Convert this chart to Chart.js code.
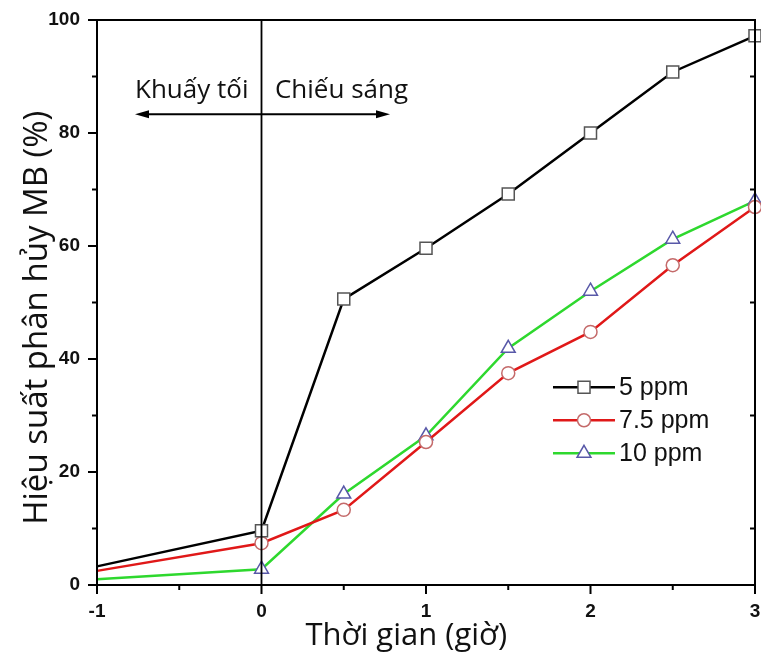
<!DOCTYPE html>
<html><head><meta charset="utf-8">
<script src="https://cdn.jsdelivr.net/npm/chart.js@4/dist/chart.umd.min.js"></script>
<style>html,body{margin:0;padding:0;background:#fff}#w{width:761px;height:660px}</style>
</head><body><div id="w"><canvas id="c" width="761" height="660"></canvas></div>
<script>
const times = [-1, 0, 0.5, 1, 1.5, 2, 2.5, 3];
const ppm5 = [3.3, 9.6, 50.6, 59.6, 69.2, 80.0, 90.8, 97.2];
const ppm75 = [2.5, 7.4, 13.3, 25.3, 37.5, 44.8, 56.6, 66.9];
const ppm10 = [1.0, 2.8, 16.1, 26.4, 41.9, 52.0, 61.2, 68.0];
const seriesNames = ["5 ppm", "7.5 ppm", "10 ppm"];
const xTickValues = [-1, 0, 1, 2, 3];
const yTickValues = [0, 20, 40, 60, 80, 100];
const labelDark = "Khuấy tối";
const labelLight = "Chiếu sáng";
const xTitle = "Thời gian (giờ)";
const yTitle = "Hiệu suất phân hủy MB (%)";

const pts = arr => times.map((t, i) => ({x: t, y: arr[i]}));
const radii = (r) => times.map(t => t < 0 ? 0 : r);

const styles = [
  {line: '#000000', mk: '#555555', ps: 'rect', r: 8.5},
  {line: '#e01818', mk: '#c46a6a', ps: 'circle', r: 6.5},
  {line: '#2ed82e', mk: '#5858a8', ps: 'triangle', r: 8}
];
const allData = [ppm5, ppm75, ppm10];

const datasets = allData.map((d, i) => ({
  label: seriesNames[i],
  data: pts(d),
  borderColor: styles[i].line,
  borderWidth: 2.5,
  pointStyle: styles[i].ps,
  pointRadius: radii(styles[i].r),
  pointBackgroundColor: '#ffffff',
  pointBorderColor: styles[i].mk,
  pointBorderWidth: 1.5,
  tension: 0,
  clip: false
}));

const zeroPad = s => {
  s.paddingLeft = 0; s.paddingRight = 0; s.paddingTop = 0; s.paddingBottom = 0;
};

const deco = {
  id: 'deco',
  afterDraw(chart) {
    const ctx = chart.ctx, ca = chart.chartArea;
    const xs = chart.scales.x, ys = chart.scales.y;
    ctx.save();
    ctx.strokeStyle = '#000'; ctx.fillStyle = '#000';
    ctx.lineWidth = 2;
    ctx.strokeRect(ca.left, ca.top, ca.right - ca.left, ca.bottom - ca.top);
    for (let v = -1; v <= 3.001; v += 0.5) {
      const px = xs.getPixelForValue(v);
      const major = Math.abs(v - Math.round(v)) < 1e-6;
      ctx.beginPath(); ctx.moveTo(px, ca.bottom); ctx.lineTo(px, ca.bottom + (major ? 9 : 5)); ctx.stroke();
    }
    for (let v = 0; v <= 100; v += 10) {
      const py = ys.getPixelForValue(v);
      const major = v % 20 === 0;
      ctx.beginPath(); ctx.moveTo(ca.left, py); ctx.lineTo(ca.left - (major ? 9 : 5), py); ctx.stroke();
      if (!major) { ctx.beginPath(); ctx.moveTo(ca.right, py); ctx.lineTo(ca.right - 5, py); ctx.stroke(); }
    }
    const x0 = xs.getPixelForValue(0);
    ctx.lineWidth = 1.8;
    ctx.beginPath(); ctx.moveTo(x0, ca.top); ctx.lineTo(x0, ca.bottom); ctx.stroke();
    const ay = ys.getPixelForValue(83.3);
    const aL = xs.getPixelForValue(-0.769), aR = xs.getPixelForValue(0.781);
    ctx.lineWidth = 2;
    ctx.beginPath(); ctx.moveTo(aL + 8, ay); ctx.lineTo(aR - 8, ay); ctx.stroke();
    ctx.beginPath(); ctx.moveTo(aL, ay); ctx.lineTo(aL + 14, ay - 4); ctx.lineTo(aL + 14, ay + 4); ctx.closePath(); ctx.fill();
    ctx.beginPath(); ctx.moveTo(aR, ay); ctx.lineTo(aR - 14, ay - 4); ctx.lineTo(aR - 14, ay + 4); ctx.closePath(); ctx.fill();
    ctx.font = '26px "Open Sans"';
    ctx.textBaseline = 'alphabetic'; ctx.textAlign = 'left';
    ctx.fillStyle = '#111';
    ctx.fillText(labelDark, xs.getPixelForValue(-0.769), ys.getPixelForValue(86.2));
    ctx.fillText(labelLight, xs.getPixelForValue(0.082), ys.getPixelForValue(86.2));
    // axis titles
    ctx.textAlign = 'center';
    ctx.font = '31px "Open Sans"';
    ctx.fillText(xTitle, xs.getPixelForValue(0.88), 645);
    ctx.save();
    ctx.translate(47, ys.getPixelForValue(47.3));
    ctx.rotate(-Math.PI / 2);
    ctx.font = '33px "Open Sans"';
    ctx.fillText(yTitle, 0, 0);
    ctx.restore();
    // legend
    const lx = xs.getPixelForValue(1.772), ly0 = ys.getPixelForValue(35.0);
    ctx.textAlign = 'left';
    ctx.font = '25px "Liberation Sans", Arial';
    ctx.textBaseline = 'middle';
    styles.forEach((s, i) => {
      const ly = ly0 + i * 33;
      ctx.strokeStyle = s.line; ctx.lineWidth = 2.5;
      ctx.beginPath(); ctx.moveTo(lx, ly); ctx.lineTo(lx + 62, ly); ctx.stroke();
      const cx = lx + 31;
      ctx.fillStyle = '#fff'; ctx.strokeStyle = s.mk; ctx.lineWidth = 1.5;
      ctx.beginPath();
      if (s.ps === 'rect') { const h = s.r / Math.SQRT2; ctx.rect(cx - h, ly - h, 2 * h, 2 * h); }
      else if (s.ps === 'circle') { ctx.arc(cx, ly, s.r, 0, Math.PI * 2); }
      else { const r = s.r; ctx.moveTo(cx, ly - r); ctx.lineTo(cx + r * 0.866, ly + r / 2); ctx.lineTo(cx - r * 0.866, ly + r / 2); ctx.closePath(); }
      ctx.fill(); ctx.stroke();
      ctx.fillStyle = '#111';
      ctx.fillText(seriesNames[i], lx + 66, ly + 1);
    });
    ctx.restore();
  }
};

new Chart(document.getElementById('c'), {
  type: 'line',
  data: {datasets},
  options: {
    responsive: false, animation: false,
    layout: {autoPadding: false, padding: {top: 20, right: 6, left: 0, bottom: 0}},
    plugins: {legend: {display: false}, tooltip: {enabled: false}},
    scales: {
      x: {
        type: 'linear', min: -1, max: 3,
        afterBuildTicks: s => { s.ticks = xTickValues.map(v => ({value: v})); },
        afterFit: s => { s.height = 75; zeroPad(s); },
        grid: {display: false, drawTicks: false},
        border: {display: false},
        ticks: {color: '#111', padding: 15, font: {family: '"Liberation Sans", Arial', size: 19, weight: 'bold'}, maxRotation: 0},
        title: {display: false, text: xTitle}
      },
      y: {
        min: 0, max: 100,
        afterBuildTicks: s => { s.ticks = yTickValues.map(v => ({value: v})); },
        afterFit: s => { s.width = 97; zeroPad(s); },
        grid: {display: false, drawTicks: false},
        border: {display: false},
        ticks: {color: '#111', padding: 17, font: {family: '"Liberation Sans", Arial', size: 19, weight: 'bold'}},
        title: {display: false, text: yTitle}
      }
    }
  },
  plugins: [deco]
});
</script>
</body></html>
